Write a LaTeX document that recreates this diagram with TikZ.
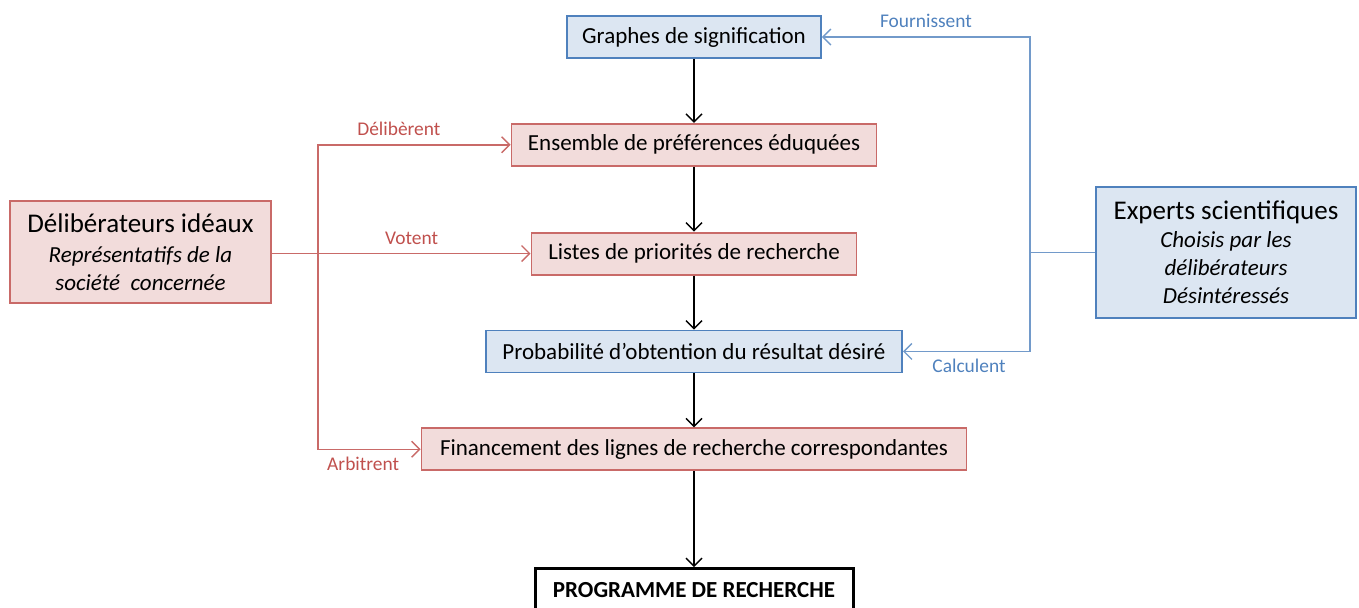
\documentclass[tikz,border=0pt]{standalone}
\usepackage{fontspec}
\setmainfont{Carlito}
\usetikzlibrary{arrows.meta, positioning}
\definecolor{rosefill}{HTML}{F2DCDB}
\definecolor{roseline}{HTML}{C0504D}
\definecolor{bleufill}{HTML}{DCE6F2}
\definecolor{bleuline}{HTML}{4F81BD}

\begin{document}
\begin{tikzpicture}[x=0.5pt, y=-0.5pt,
                box/.style={draw, minimum height=21pt, inner sep=0pt, align=center, line width=0.9pt, font=\fontsize{11.5}{14}\selectfont},
                rose/.style={box, fill=rosefill, draw=roseline!85},
                bleu/.style={box, fill=bleufill, draw=bleuline},
                arrow/.style={-{Straight Barb[length=4pt, width=8pt]}, line width=0.7pt},
                lbl/.style={font=\fontsize{9.7}{11}\selectfont}]

                \useasboundingbox (0,0) rectangle (1359,607);

                % Chaine centrale
                \node[bleu, minimum width=127pt] (graphes) at (694,37) {Graphes de signification};
                \node[rose, minimum width=182.5pt, below=32pt of graphes] (ensemble) {Ensemble de préférences éduquées};
                \node[rose, minimum width=162.5pt, below=32.5pt of ensemble] (listes) {Listes de priorités de recherche};
                \node[bleu, minimum width=208pt, below=27pt of listes] (proba) {Probabilité d’obtention du résultat désiré};
                \node[rose, minimum width=272.5pt, below=27pt of proba] (finance) {Financement des lignes de recherche correspondantes};
                \node[box, fill=white, line width=1.5pt, minimum width=159pt, below=48pt of finance] (programme) {\textbf{PROGRAMME DE RECHERCHE}};

                % Acteurs
                \node[rose, minimum width=130.5pt, minimum height=51pt] (delib) at (140.5,252)
                    {{\fontsize{13.5}{16}\selectfont Délibérateurs idéaux}\\[1pt] \itshape Représentatifs de la\\ \itshape société \ concernée};
                \node[bleu, minimum width=130pt, minimum height=65.5pt] (experts) at (1226,252.5)
                    {{\fontsize{13.5}{16}\selectfont Experts scientifiques}\\ \itshape Choisis par les\\ \itshape délibérateurs\\ \itshape Désintéressés};

                \coordinate (jrose) at (318,0);
                \coordinate (jbleu) at (1030,0);

                % Fleches centrales
                \draw[arrow] (graphes) -- (ensemble);
                \draw[arrow] (ensemble) -- (listes);
                \draw[arrow] (listes) -- (proba);
                \draw[arrow] (proba) -- (finance);
                \draw[arrow] (finance) -- (programme);

                % Deliberateurs
                \draw[arrow, draw=roseline!85] (delib.east |- listes.west) -- (listes.west)
                    node[lbl, pos=0.54, above=1pt, text=roseline] {Votent};
                \draw[arrow, draw=roseline!85] (listes.west -| jrose) |- (ensemble.west)
                    node[lbl, pos=0.71, above=1pt, text=roseline] {Délibèrent};
                \draw[arrow, draw=roseline!85] (listes.west -| jrose) |- (finance.west)
                    node[lbl, pos=0.72, below=0pt, text=roseline] {Arbitrent};

                % Experts
                \draw[line width=0.7pt, draw=bleuline!80] (experts.west) -- (experts.west -| jbleu);
                \draw[arrow, draw=bleuline!80] (experts.west -| jbleu) |- (graphes.east)
                    node[lbl, pos=0.75, above=1pt, text=bleuline] {Fournissent};
                \draw[arrow, draw=bleuline!80] (experts.west -| jbleu) |- (proba.east)
                    node[lbl, pos=0.74, below=0pt, text=bleuline] {Calculent};
            \end{tikzpicture}
\end{document}
